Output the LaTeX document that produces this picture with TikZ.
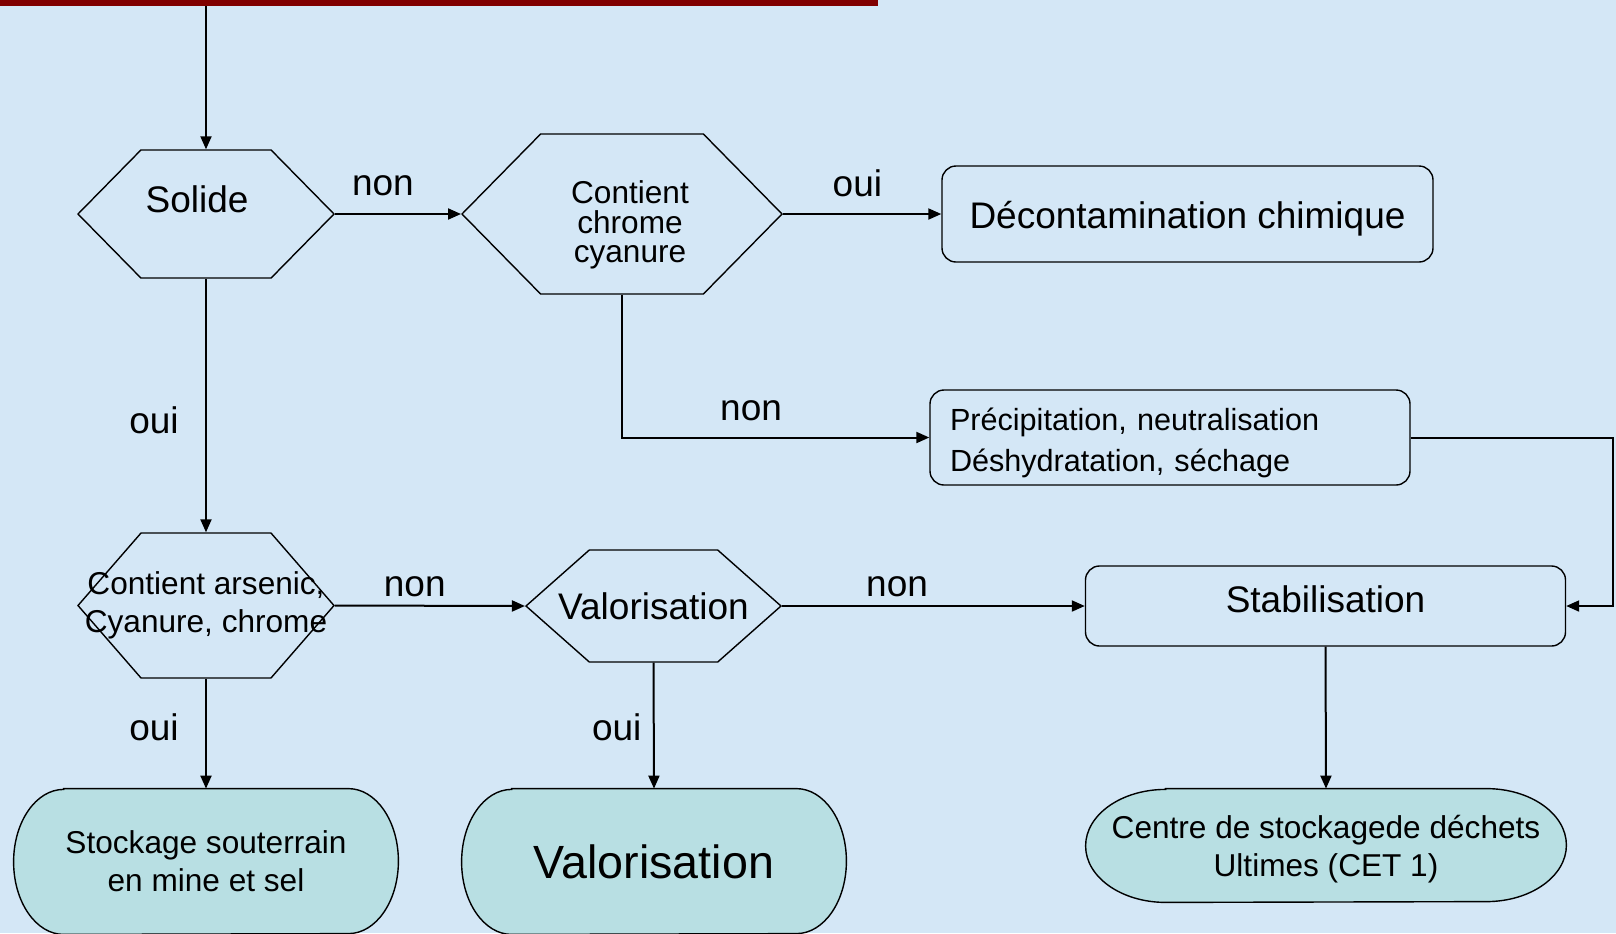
\documentclass[tikz,border=0pt]{standalone}
\usepackage{fontspec}
\setmainfont{Liberation Sans}
\usepackage{tikz}
\usetikzlibrary{arrows.meta,shapes.symbols,backgrounds}
\definecolor{fondbleu}{RGB}{212,231,246}
\definecolor{finbleu}{RGB}{184,223,227}
\definecolor{barrerouge}{RGB}{128,0,0}
\newcommand{\grand}{\fontsize{18.5}{22}\selectfont}
\newcommand{\moyen}{\fontsize{15.8}{19}\selectfont}

\begin{document}
\begin{tikzpicture}[
x=0.5pt, y=-0.5pt,
font=\grand,
lien/.style={-{Triangle[length=6.5pt,width=5.5pt]},line width=1pt},
lbl/.style={inner sep=0pt,font=\grand},
hexa/.style={signal, signal to=west and east, signal from=nowhere, draw, line width=0.7pt,
  inner sep=0pt, align=center},
boite/.style={draw, rounded corners=7pt, line width=0.7pt, inner sep=0pt},
finbox/.style={inner sep=0pt, align=center}]
    \useasboundingbox (0,0) rectangle (1616,933);

    % Bandeau en haut
    \fill[barrerouge] (0,0) rectangle (878,6);
    \coordinate (depart) at (206,6);

    % Tests
    \node[hexa, minimum width=128pt, minimum height=64pt, signal pointer angle=91,
      label={[inner sep=0pt, shift={(-9,-15)}]center:Solide}] (solide) at (206,214) {};
    \node[hexa, minimum width=160pt, minimum height=80pt, signal pointer angle=91,
      label={[inner sep=0pt, align=center, font=\fontsize{15.8}{14.75}\selectfont, shift={(8,11)}]center:Contient\\chrome\\cyanure}]
      (chrome) at (622,214) {};
    \node[hexa, minimum width=128pt, minimum height=72.5pt, signal pointer angle=98, font=\moyen]
      (arsenic) at (206,605.5) {\makebox[0pt]{Contient arsenic,}\\\makebox[0pt]{Cyanure, chrome}};
    \node[hexa, minimum width=127.5pt, minimum height=56pt, signal pointer angle=83] (valtest) at (653.5,606)
      {\makebox[0pt]{Valorisation}};

    % Traitements
    \node[boite, minimum width=245.5pt, minimum height=48pt, text height=14.3pt, text depth=0pt]
      (decon) at (1187.5,214) {D\'econtamination chimique};
    \node[boite, minimum width=240pt, minimum height=47.5pt,
      label={[text width=220pt, align=left, font=\fontsize{15.3}{20.5}\selectfont, shift={(0,5)}]center:Pr\'ecipitation, neutralisation\\D\'eshydratation, s\'echage}]
      (precip) at (1170,437.5) {};
    \node[boite, minimum width=240pt, minimum height=40pt, text height=13.3pt, text depth=7pt]
      (stab) at (1325.5,606) {Stabilisation};

    % Destinations
    \node[finbox, minimum width=192pt, minimum height=72.5pt, font=\moyen] (stock) at (206,861.5)
      {Stockage souterrain\\en mine et sel};
    \node[finbox, minimum width=192pt, minimum height=72.5pt, font=\fontsize{23.3}{28}\selectfont] (valo) at (654,861.5) {Valorisation};
    \node[finbox, minimum width=240pt, minimum height=56.5pt,
      label={[align=center, font=\moyen, shift={(0,4)}]center:Centre de stockagede d\'echets\\Ultimes (CET 1)}]
      (cet) at (1326,845.5) {};

    % Liens
    \draw[lien] (depart) -- (solide.north);
    \draw[lien] (solide.east) -- node[lbl, pos=0.38, yshift=14pt] {non} (chrome.west);
    \draw[lien] (chrome.east) -- node[lbl, pos=0.47, yshift=15.5pt] {oui} (decon.west);
    \draw[lien] (chrome.south) |- node[lbl, pos=0.71, yshift=13.5pt] {non} (precip.west);
    \draw[lien] (solide.south) -- node[lbl, pos=0.56, xshift=-26pt] {oui} (arsenic.north);
    \draw[lien] (arsenic.east) -- node[lbl, pos=0.42, yshift=9.5pt] {non} (valtest.west);
    \draw[lien] (valtest.east) -- node[lbl, pos=0.38, yshift=9.5pt] {non} (stab.west);
    \draw[lien] (arsenic.south) -- node[lbl, pos=0.44, xshift=-26pt] {oui} (stock.north);
    \draw[lien] (valtest.south) -- node[lbl, pos=0.51, xshift=-18.5pt] {oui} (valo.north);
    \draw[lien] (precip.east) -- (1613,437.5) |- (stab.east);
    \draw[lien] (stab.south) -- (cet.north);

    % Fond et cadres arrondis
    \begin{scope}[on background layer]
      \fill[fondbleu] (0,0) rectangle (1616,933);
      \foreach \n/\rx/\ry in {stock/25pt/36.25pt, valo/25pt/36.25pt, cet/40pt/28.25pt}
        \draw[fill=finbleu, line width=0.7pt] ([xshift=\rx]\n.north west) -- ([xshift=-\rx]\n.north east)
          arc[start angle=90, end angle=-90, x radius=\rx, y radius=\ry]
          -- ([xshift=\rx]\n.south west)
          arc[start angle=270, end angle=90, x radius=\rx, y radius=\ry] -- cycle;
    \end{scope}
\end{tikzpicture}
\end{document}
